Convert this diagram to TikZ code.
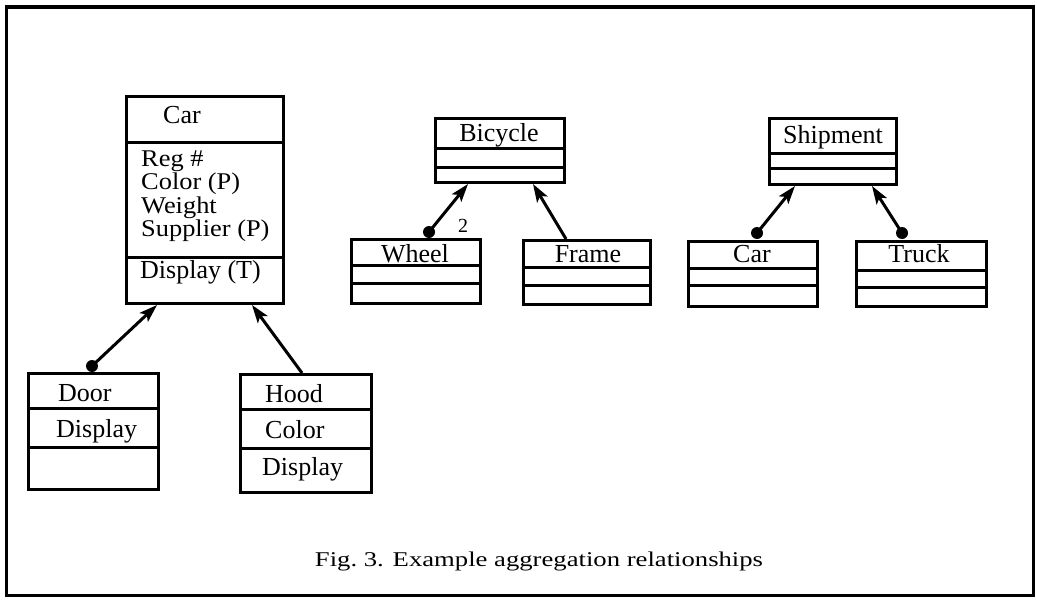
\documentclass[tikz,border=0pt]{standalone}
\usepackage{fontspec}
\setmainfont{Liberation Serif}
\usetikzlibrary{arrows.meta}
\newcommand{\widetxt}[1]{\scalebox{1.1}[1]{#1}}
\tikzset{
  frame/.style={draw, line width=3.5pt},
  box/.style={draw, line width=3pt, rectangle, inner sep=0pt, anchor=north west},
  div/.style={line width=3pt},
  txt/.style={anchor=base west, inner sep=0pt, text height=16pt, text depth=5pt, font=\fontsize{26}{26}\selectfont},
  atxt/.style={anchor=base west, inner sep=0pt, text height=15pt, text depth=5pt, font=\fontsize{24}{24}\selectfont},
  ctxt/.style={anchor=base, inner sep=0pt, text height=16pt, text depth=5pt, font=\fontsize{26}{26}\selectfont},
  agg/.style={line width=3pt, -{Stealth[length=18pt,width=12pt,inset=4pt]}},
  dot/.style={circle, fill, inner sep=0pt, minimum size=12pt},
}
\begin{document}
\begin{tikzpicture}[x=1pt,y=-1pt]
\useasboundingbox (0,0) rectangle (1037,602);
\draw[frame] (6.5,7) rectangle (1033.5,595.5);

% Car class
\node[box, minimum width=157pt, minimum height=207pt] (car) at (125,95) {};
\draw[div] (car.west |- 0,142) -- (car.east |- 0,142);
\draw[div] (car.west |- 0,257) -- (car.east |- 0,257);
\node[txt] (carN) at (163,124) {Car};
\node[atxt] (carA1) at (141,166) {\widetxt{Reg \#}};
\node[atxt] (carA2) at (141,189.5) {\widetxt{Color (P)}};
\node[atxt] (carA3) at (141,213) {\widetxt{Weight}};
\node[atxt] (carA4) at (141,236.5) {\widetxt{Supplier (P)}};
\node[txt] (carO1) at (140,278) {Display (T)};

% Door class
\node[box, minimum width=130pt, minimum height=116pt] (door) at (27,372) {};
\draw[div] (door.west |- 0,408) -- (door.east |- 0,408);
\draw[div] (door.west |- 0,447) -- (door.east |- 0,447);
\node[txt] (doorN) at (58,401) {Door};
\node[txt] (doorO) at (56,437) {Display};

% Hood class
\node[box, minimum width=131pt, minimum height=118pt] (hood) at (239,373) {};
\draw[div] (hood.west |- 0,409) -- (hood.east |- 0,409);
\draw[div] (hood.west |- 0,448) -- (hood.east |- 0,448);
\node[txt] (hoodN) at (265,402) {Hood};
\node[txt] (hoodA) at (265,438) {Color};
\node[txt] (hoodO) at (262,475) {Display};

% Bicycle
\node[box, minimum width=129pt, minimum height=64pt] (bic) at (434,117) {};
\draw[div] (bic.west |- 0,148) -- (bic.east |- 0,148);
\draw[div] (bic.west |- 0,167) -- (bic.east |- 0,167);
\node[ctxt] (bicN) at (499,141) {Bicycle};

\node[box, minimum width=129pt, minimum height=64pt] (wheel) at (350,238) {};
\draw[div] (wheel.west |- 0,265) -- (wheel.east |- 0,265);
\draw[div] (wheel.west |- 0,283) -- (wheel.east |- 0,283);
\node[ctxt] (wheelN) at (415,262) {Wheel};

\node[box, minimum width=127pt, minimum height=64pt] (frm) at (522,239) {};
\draw[div] (frm.west |- 0,267) -- (frm.east |- 0,267);
\draw[div] (frm.west |- 0,285) -- (frm.east |- 0,285);
\node[ctxt] (frmN) at (588,262) {Frame};

% Shipment
\node[box, minimum width=127pt, minimum height=66pt] (ship) at (768,117) {};
\draw[div] (ship.west |- 0,153) -- (ship.east |- 0,153);
\draw[div] (ship.west |- 0,168) -- (ship.east |- 0,168);
\node[ctxt] (shipN) at (833,143) {Shipment};

\node[box, minimum width=129pt, minimum height=65pt] (car2) at (687,240) {};
\draw[div] (car2.west |- 0,268) -- (car2.east |- 0,268);
\draw[div] (car2.west |- 0,285) -- (car2.east |- 0,285);
\node[ctxt] (car2N) at (752,262) {Car};

\node[box, minimum width=130pt, minimum height=65pt] (truck) at (855,240) {};
\draw[div] (truck.west |- 0,270) -- (truck.east |- 0,270);
\draw[div] (truck.west |- 0,287) -- (truck.east |- 0,287);
\node[ctxt] (truckN) at (919,262) {Truck};

% aggregation connectors
\node[dot] (dDoor) at ([xshift=65pt,yshift=6pt]door.north west) {};
\draw[agg] (dDoor.center) -- ([xshift=32pt]car.south west);
\draw[agg] ([xshift=63pt]hood.north west) -- ([xshift=127pt]car.south west);

\node[dot] (dWheel) at ([xshift=79pt,yshift=6pt]wheel.north west) {};
\draw[agg] (dWheel.center) -- ([xshift=34pt]bic.south west);
\node[anchor=base west, inner sep=0pt, font=\fontsize{20}{20}\selectfont] (two) at (458,232) {2};
\draw[agg] ([xshift=44pt]frm.north west) -- ([xshift=99pt]bic.south west);

\node[dot] (dCar2) at ([xshift=70pt,yshift=7pt]car2.north west) {};
\draw[agg] (dCar2.center) -- ([xshift=27pt]ship.south west);
\node[dot] (dTruck) at ([xshift=47pt,yshift=7pt]truck.north west) {};
\draw[agg] (dTruck.center) -- ([xshift=104pt]ship.south west);

% caption
\node[anchor=base, inner sep=0pt] (cap) at (539,566) {\scalebox{1.27}[1]{\fontsize{21}{21}\selectfont Fig.\ 3. Example aggregation relationships}};
\end{tikzpicture}
\end{document}
